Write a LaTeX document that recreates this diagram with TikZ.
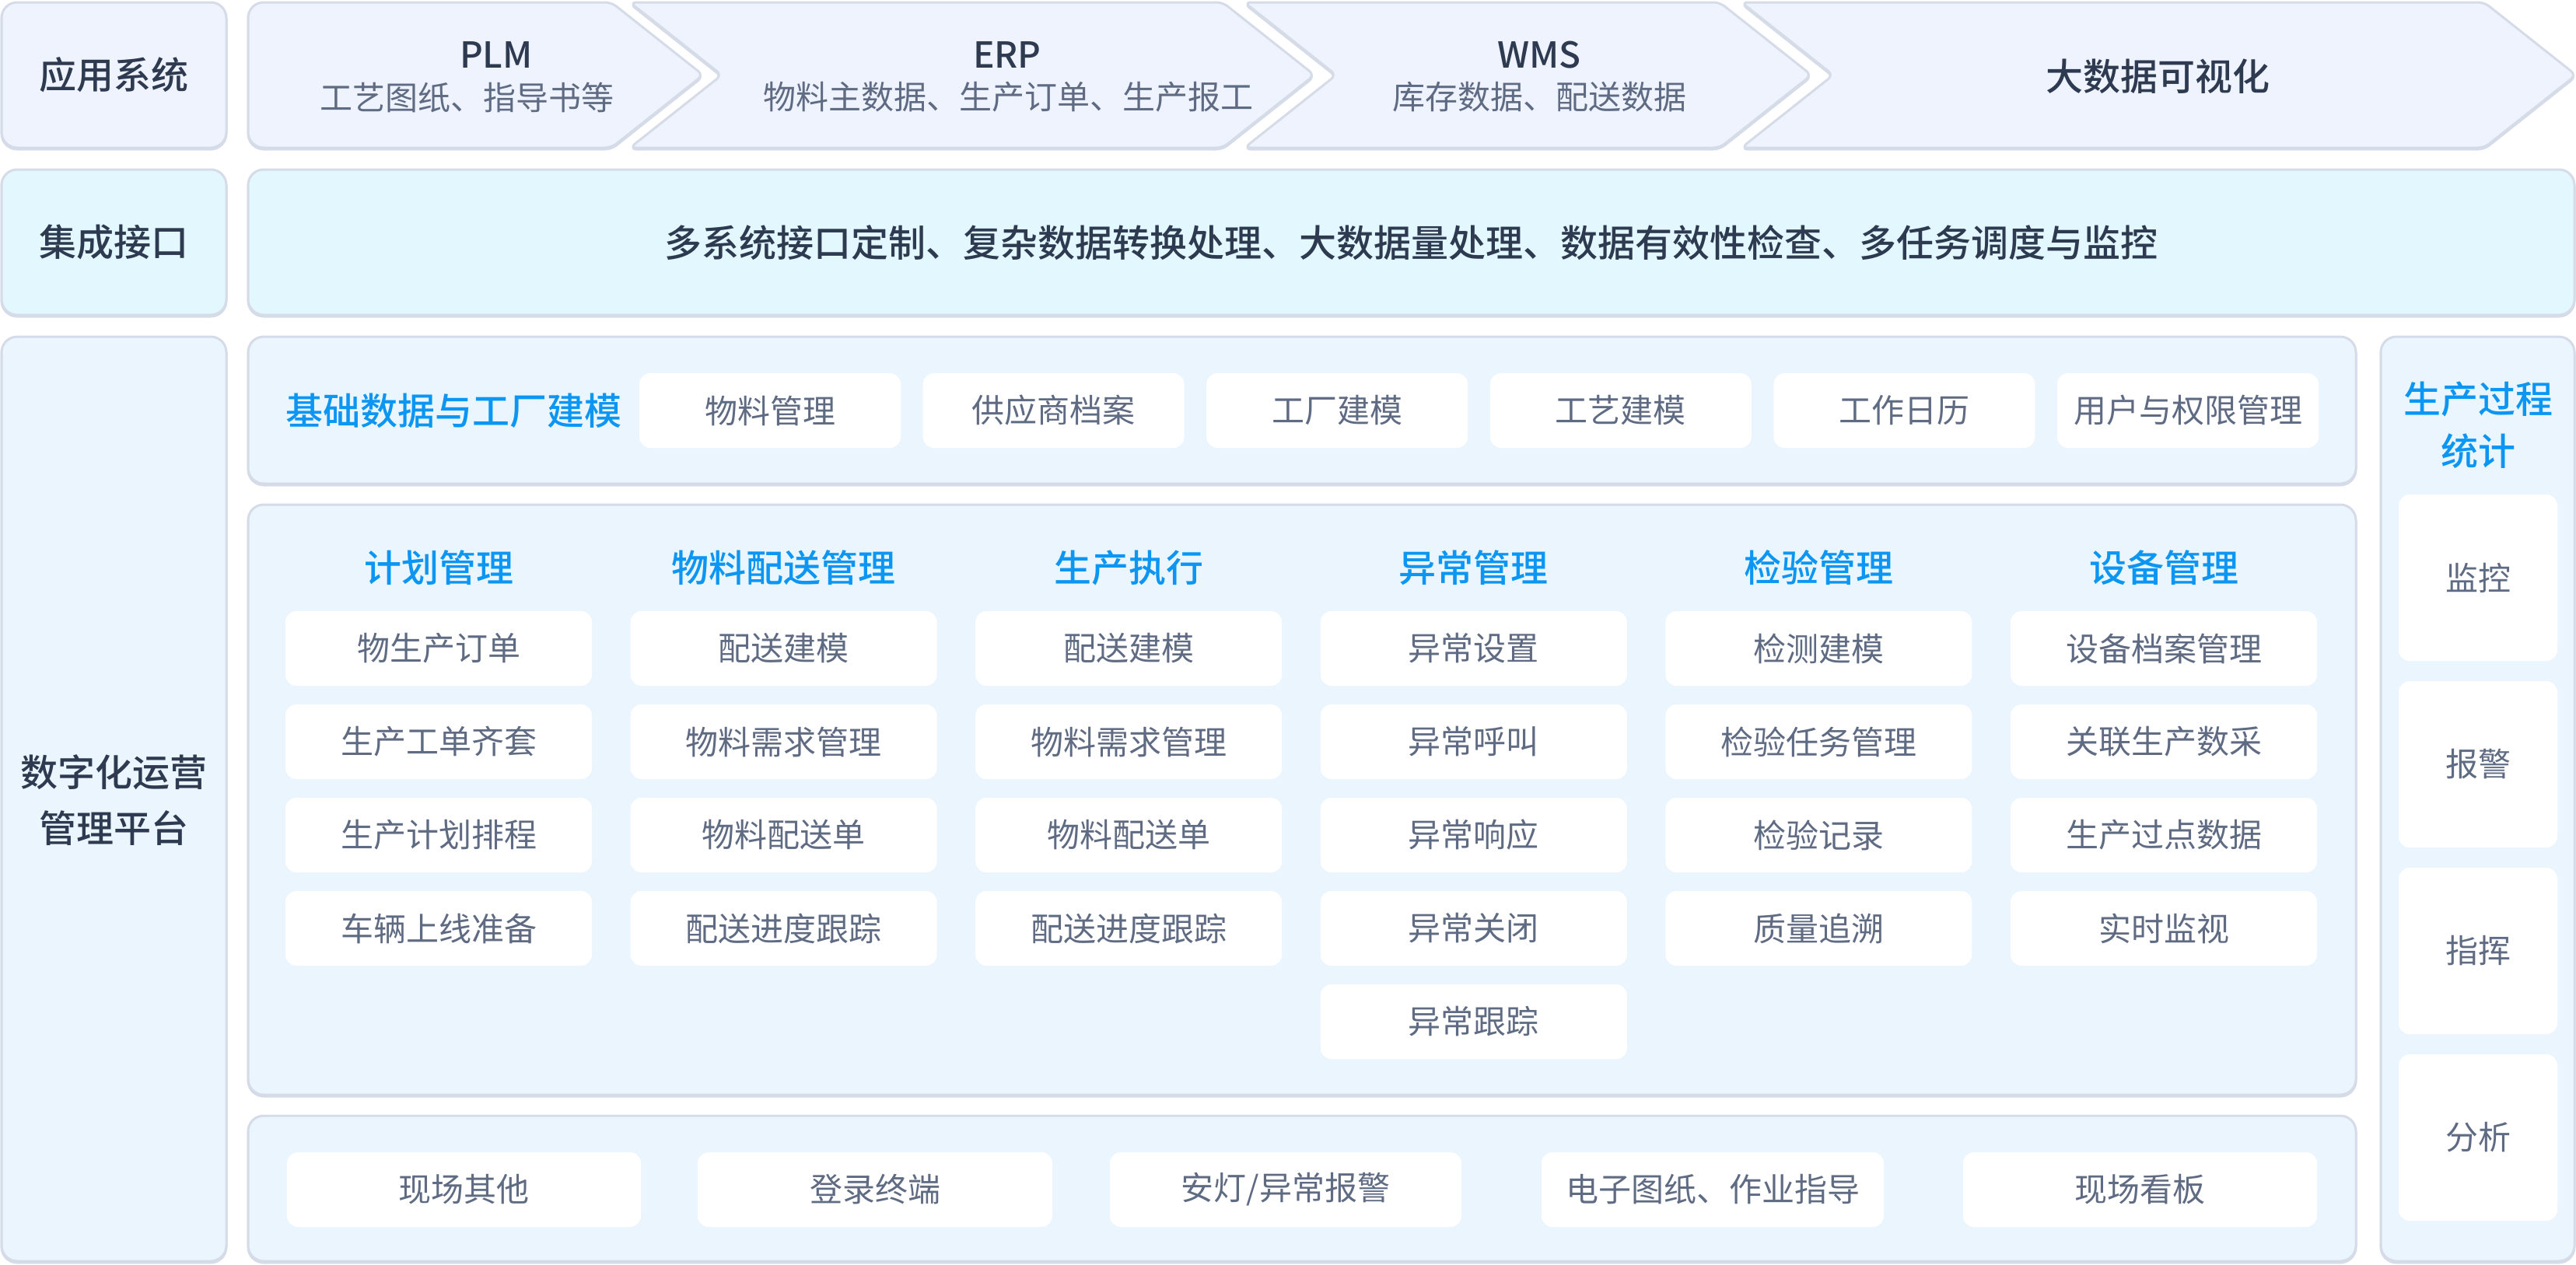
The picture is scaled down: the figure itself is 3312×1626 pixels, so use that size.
\documentclass[tikz,border=0pt]{standalone}
\usepackage{fontspec}
\setmainfont{Noto Sans CJK SC}[BoldFont={* Medium}]

\definecolor{layerA}{HTML}{EEF3FE}
\definecolor{layerB}{HTML}{E2F7FE}
\definecolor{layerC}{HTML}{EBF5FE}
\definecolor{edgec}{HTML}{D5DCE8}
\definecolor{inkdark}{HTML}{2E3A50}
\definecolor{inkgray}{HTML}{5F6B82}
\definecolor{inkblue}{HTML}{0A96F2}

\tikzset{
  panel/.style={draw=edgec, line width=3pt, rounded corners=20pt, inner sep=0pt,
    preaction={draw=edgec, line width=3pt, transform canvas={yshift=-2pt}}},
  chev/.style={fill=layerA, draw=edgec, line width=3pt, rounded corners=8pt,
    preaction={draw=edgec, line width=3pt, transform canvas={yshift=-2pt}}},
  itembox/.style={fill=white, rounded corners=14pt, inner sep=0pt, minimum height=96pt,
    text=inkgray, font=\fontsize{42}{50}\selectfont},
  layertext/.style={text=inkdark, inner sep=0pt, align=center, font=\fontsize{48}{72}\selectfont\bfseries},
  headtext/.style={text=inkdark, inner sep=0pt, font=\fontsize{46}{50}\selectfont\bfseries},
  subtext/.style={text=inkgray, inner sep=0pt, font=\fontsize{42}{50}\selectfont},
  bluehead/.style={text=inkblue, inner sep=0pt, align=center, font=\fontsize{48}{67}\selectfont\bfseries}
}

\begin{document}
\begin{tikzpicture}[x=1pt, y=-1pt]
    \useasboundingbox (0,0) rectangle (3312,1626);
    % layer labels
    \node[panel, fill=layerA, minimum width=289pt, minimum height=187pt] (appbox) at (146.5,96.5) {};
    \node[layertext] (applbl) at (appbox.center) {应用系统};
    \node[panel, fill=layerB, minimum width=289pt, minimum height=187pt] (intbox) at (146.5,311.5) {};
    \node[layertext] (intlbl) at (intbox.center) {集成接口};
    \node[panel, fill=layerC, minimum width=289pt, minimum height=1189pt] (platbox) at (146.5,1027.5) {};
    \node[layertext] (platlbl) at (146.5,1029) {数字化运营\\管理平台};

    % application systems
    \draw[chev] (552,3) -- (786,3) -- (904,96.5) -- (786,190) -- (552,190) [rounded corners=20pt] -- (319,190) -- (319,3) -- cycle;
    \foreach \l/\r in {810/1572, 1600/2211, 2239/3194}
    {   \draw[chev] (\l,3) -- (\r,3) -- (\r+118,96.5) -- (\r,190) -- (\l,190) -- (\l+118,96.5) -- cycle;
    }
    \node[headtext] (plm) at (638,71) {PLM};
    \node[subtext] (plmsub) at (600,125) {工艺图纸、指导书等};
    \node[headtext] (erp) at (1295,71) {ERP};
    \node[subtext] (erpsub) at (1296,125) {物料主数据、生产订单、生产报工};
    \node[headtext] (wms) at (1979,71) {WMS};
    \node[subtext] (wmssub) at (1979,125) {库存数据、配送数据};
    \node[layertext] (bigdata) at (2774,98) {大数据可视化};

    % integration
    \node[panel, fill=layerB, minimum width=2991pt, minimum height=187pt] (ifbox) at (1814.5,311.5) {};
    \node[layertext] (iftext) at (1814,312) {多系统接口定制、复杂数据转换处理、大数据量处理、数据有效性检查、多任务调度与监控};

    % base data
    \node[panel, fill=layerC, minimum width=2710pt, minimum height=189pt] (basebox) at (1674,527.5) {};
    \node[bluehead] (basettl) at (583,528) {基础数据与工厂建模};
    \foreach \t [count=\i from 0] in {物料管理, 供应商档案, 工厂建模, 工艺建模, 工作日历, 用户与权限管理}
    {   \node[itembox, minimum width=336pt] (base\i) at (990+364.6*\i,528) {\t};
    }

    % modules
    \node[panel, fill=layerC, minimum width=2710pt, minimum height=759pt] (modbox) at (1674,1028.5) {};
    \foreach \t [count=\i from 0] in {计划管理, 物料配送管理, 生产执行, 异常管理, 检验管理, 设备管理}
    {   \node[bluehead] (mod\i) at (564+443.6*\i,730) {\t};
    }
    \foreach \c/\r/\t in {0/0/物生产订单, 0/1/生产工单齐套, 0/2/生产计划排程, 0/3/车辆上线准备,
        1/0/配送建模, 1/1/物料需求管理, 1/2/物料配送单, 1/3/配送进度跟踪,
        2/0/配送建模, 2/1/物料需求管理, 2/2/物料配送单, 2/3/配送进度跟踪,
        3/0/异常设置, 3/1/异常呼叫, 3/2/异常响应, 3/3/异常关闭, 3/4/异常跟踪,
        4/0/检测建模, 4/1/检验任务管理, 4/2/检验记录, 4/3/质量追溯,
        5/0/设备档案管理, 5/1/关联生产数采, 5/2/生产过点数据, 5/3/实时监视}
    {   \node[itembox, minimum width=394pt] (it\c-\r) at (564+443.6*\c,834+120*\r) {\t};
    }

    % field terminals
    \node[panel, fill=layerC, minimum width=2710pt, minimum height=187pt] (fieldbox) at (1674,1528.5) {};
    \foreach \x/\w/\t [count=\i] in {596.5/455/现场其他, 1125/456/登录终端, 1653/452/{安灯/异常报警},
        2202/440/电子图纸、作业指导, 2751.5/455/现场看板}
    {   \node[itembox, minimum width=\w pt] (field\i) at (\x,1530) {\t};
    }

    % statistics
    \node[panel, fill=layerC, minimum width=249pt, minimum height=1189pt] (statbox) at (3185.5,1027.5) {};
    \node[bluehead] (statttl) at (3186,546.5) {生产过程\\统计};
    \foreach \t [count=\i from 0] in {监控, 报警, 指挥, 分析}
    {   \node[itembox, minimum width=204pt, minimum height=214pt] (stat\i) at (3186,743+240*\i) {\t};
    }
\end{tikzpicture}
\end{document}
